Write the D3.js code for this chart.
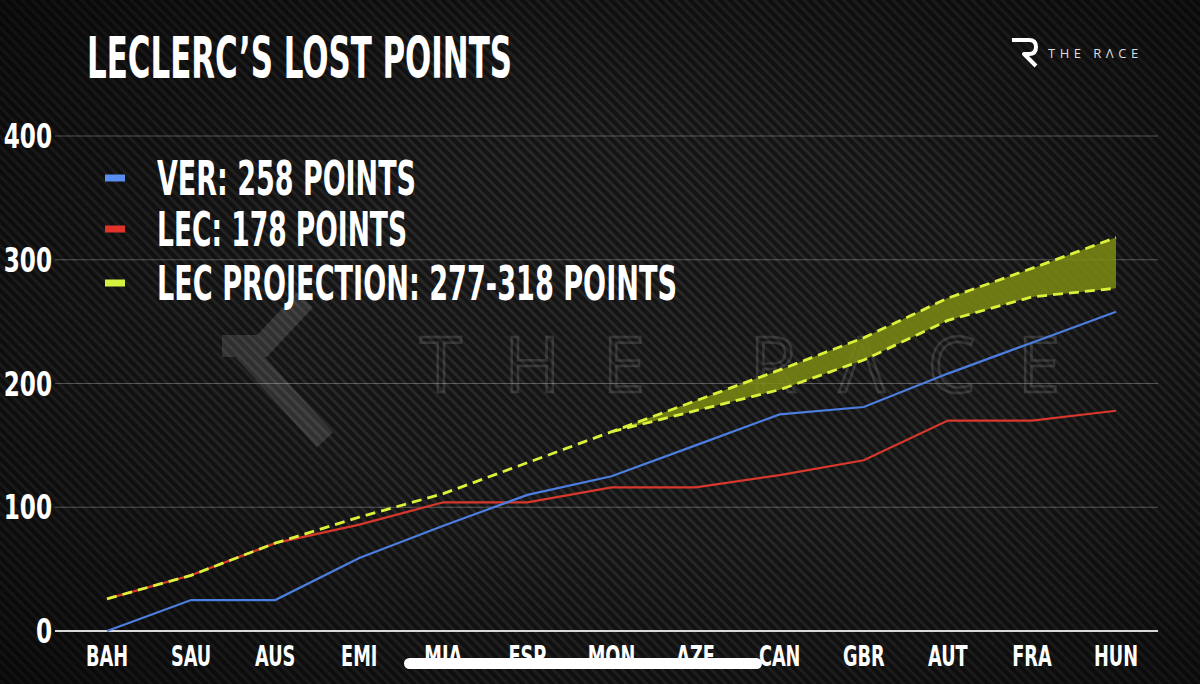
<!DOCTYPE html>
<html><head><meta charset="utf-8">
<script src="https://cdn.jsdelivr.net/npm/d3@7"></script>
<style>
html,body{margin:0;padding:0;background:#111;}
svg{display:block;}
</style></head>
<body>
<script>
const races = ["BAH","SAU","AUS","EMI","MIA","ESP","MON","AZE","CAN","GBR","AUT","FRA","HUN"];
const verPoints = [0,25,25,59,85,110,125,150,175,181,208,233,258];
const lecPoints = [26,45,71,86,104,104,116,116,126,138,170,170,178];
const projHigh = [26,45,71,92,111,136,161,186,211,237,269,293,318];
const projLowRaces = ["MON","AZE","CAN","GBR","AUT","FRA","HUN"];
const projLow = [161,178,195,219,251,270,277];
const yTicks = [0,100,200,300,400];
const legendLabels = ["VER: 258 POINTS","LEC: 178 POINTS","LEC PROJECTION: 277-318 POINTS"];

const W=1200,H=684;
const FONT = "'DejaVu Sans Condensed','Roboto',sans-serif";
const svg = d3.select("body").append("svg").attr("width",W).attr("height",H);
const defs = svg.append("defs");
const pat = defs.append("pattern").attr("id","carbon").attr("patternUnits","userSpaceOnUse")
  .attr("width",7).attr("height",7).attr("patternTransform","rotate(-45)");
pat.append("rect").attr("width",7).attr("height",7).attr("fill","#141414");
pat.append("rect").attr("width",3).attr("height",7).attr("fill","#272727");
const vg = defs.append("radialGradient").attr("id","vig").attr("cx","55%").attr("cy","50%").attr("r","75%");
vg.append("stop").attr("offset","40%").attr("stop-color","#000").attr("stop-opacity",0);
vg.append("stop").attr("offset","100%").attr("stop-color","#000").attr("stop-opacity",0.6);

svg.append("rect").attr("width",W).attr("height",H).attr("fill","url(#carbon)");
svg.append("rect").attr("width",W).attr("height",H).attr("fill","url(#vig)");

// watermark
const wm = svg.append("g").attr("opacity",0.12);
wm.append("path").attr("d","M305,300 L262,346 L222,346 M240,346 L325,440")
  .attr("fill","none").attr("stroke","#fff").attr("stroke-width",22).attr("stroke-linejoin","miter");
wm.append("text").attr("x",420).attr("y",392).attr("font-family","'Open Sans',sans-serif").attr("font-size",76)
  .attr("fill","none").attr("stroke","#fff").attr("stroke-width",2.5)
  .attr("textLength",640).attr("lengthAdjust","spacing").text("THE RΛCE");

const x = d3.scalePoint().domain(races).range([107,1116]);
const y = d3.scaleLinear().domain([0,400]).range([631,136]);

// grid
svg.append("g").selectAll("line").data(yTicks).join("line")
  .attr("x1",55).attr("x2",1158).attr("y1",d=>y(d)).attr("y2",d=>y(d))
  .attr("stroke",d=>d===0?"#d8d8d8":"rgba(255,255,255,0.28)")
  .attr("stroke-width",d=>d===0?2.2:1);

// y labels
svg.append("g").selectAll("g").data(yTicks).join("g")
  .attr("transform",d=>`translate(52,${y(d)+12}) scale(0.78,1)`)
  .append("text").attr("text-anchor","end")
  .attr("font-family",FONT).attr("font-weight","bold").attr("font-size",33).attr("fill","#fff")
  .text(d=>d);

// x labels
svg.append("g").selectAll("g").data(races).join("g")
  .attr("transform",d=>`translate(${x(d)},666) scale(0.68,1)`)
  .append("text").attr("text-anchor","middle")
  .attr("font-family",FONT).attr("font-weight","bold").attr("font-size",29).attr("fill","#fff")
  .text(d=>d);

const line = d3.line().x(d=>x(d[0])).y(d=>y(d[1]));

// band
const bandData = projLowRaces.map((r,i)=>({r, lo:projLow[i], hi:projHigh[races.indexOf(r)]}));
svg.append("path").datum(bandData)
  .attr("d", d3.area().x(d=>x(d.r)).y0(d=>y(d.lo)).y1(d=>y(d.hi)))
  .attr("fill","#7d8c14").attr("opacity",0.85);

svg.append("path").datum(races.map((r,i)=>[r,lecPoints[i]]))
  .attr("d",line).attr("fill","none").attr("stroke","#d8382c").attr("stroke-width",2.2);
svg.append("path").datum(races.map((r,i)=>[r,verPoints[i]]))
  .attr("d",line).attr("fill","none").attr("stroke","#4c7ee0").attr("stroke-width",2.2);
svg.append("path").datum(races.map((r,i)=>[r,projHigh[i]]))
  .attr("d",line).attr("fill","none").attr("stroke","#dcf23a").attr("stroke-width",2.8).attr("stroke-dasharray","10,6");
svg.append("path").datum(projLowRaces.map((r,i)=>[r,projLow[i]]))
  .attr("d",line).attr("fill","none").attr("stroke","#dcf23a").attr("stroke-width",2.8).attr("stroke-dasharray","10,6");

// home indicator
svg.append("rect").attr("x",404).attr("y",658).attr("width",358).attr("height",11).attr("rx",5.5).attr("fill","#fff");

// title
svg.append("text").attr("x",87).attr("y",78).attr("font-family",FONT).attr("font-weight","bold")
  .attr("font-size",57).attr("fill","#fff").attr("textLength",425).attr("lengthAdjust","spacingAndGlyphs")
  .text("LECLERC’S LOST POINTS");

// legend
const legColors = ["#5b8cf0","#e0342a","#d4f040"];
const legY = [178,229,283];
const legW = [259,250,520];
const leg = svg.append("g");
leg.selectAll("rect").data(legendLabels).join("rect")
  .attr("x",105).attr("y",(d,i)=>legY[i]-3.5).attr("width",20).attr("height",7).attr("fill",(d,i)=>legColors[i]);
leg.selectAll("text").data(legendLabels).join("text")
  .attr("x",157).attr("y",(d,i)=>legY[i]+17).attr("font-family",FONT).attr("font-weight","bold")
  .attr("font-size",48).attr("fill","#fff").attr("textLength",(d,i)=>legW[i]).attr("lengthAdjust","spacingAndGlyphs")
  .text(d=>d);

// logo
const logo = svg.append("g");
logo.append("path").attr("d","M1012,40 L1029,40 Q1036,40 1036,47 Q1036,54 1029,54 L1024,54 L1036,66")
  .attr("fill","none").attr("stroke","#fff").attr("stroke-width",4).attr("stroke-linejoin","round");
logo.append("text").attr("x",1048).attr("y",58).attr("font-family","'Open Sans',sans-serif")
  .attr("font-size",13).attr("fill","#ddd").attr("letter-spacing",4.5).text("THE RΛCE");
</script>
</body></html>
